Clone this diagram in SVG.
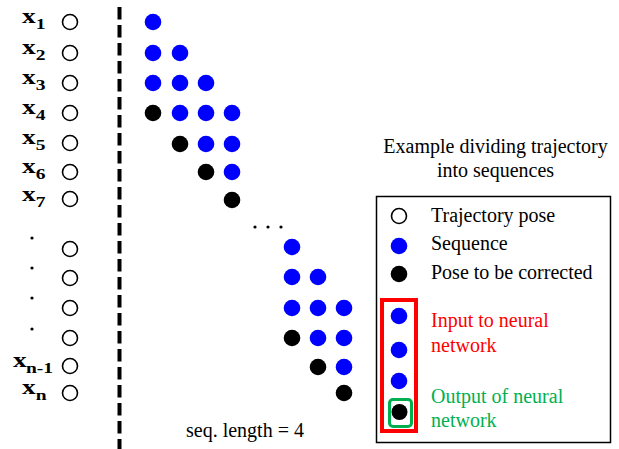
<svg xmlns="http://www.w3.org/2000/svg" width="619" height="449" viewBox="0 0 619 449">
  <style>
    .pose { fill: #fff; stroke: #000; stroke-width: 1.6; }
    .seq { fill: #0000ff; }
    .fix { fill: #000; }
    .lbl { font-family: "Liberation Serif", "Times New Roman", serif; font-weight: bold; font-size: 21px; fill: #000; }
    .sub { font-size: 15px; }
    .txt { font-family: "Liberation Serif", "Times New Roman", serif; font-size: 20px; fill: #000; }
  </style>
  <rect width="619" height="449" fill="#fff"/>

  <!-- trajectory labels (wide bold face) -->
  <g id="labels">
    <text class="lbl" transform="translate(22 23) scale(1.3 1)">x<tspan class="sub" dy="6">1</tspan></text>
    <text class="lbl" transform="translate(22 54) scale(1.3 1)">x<tspan class="sub" dy="6">2</tspan></text>
    <text class="lbl" transform="translate(22 84) scale(1.3 1)">x<tspan class="sub" dy="6">3</tspan></text>
    <text class="lbl" transform="translate(22 114) scale(1.3 1)">x<tspan class="sub" dy="6">4</tspan></text>
    <text class="lbl" transform="translate(22 144) scale(1.3 1)">x<tspan class="sub" dy="6">5</tspan></text>
    <text class="lbl" transform="translate(22 173) scale(1.3 1)">x<tspan class="sub" dy="6">6</tspan></text>
    <text class="lbl" transform="translate(22 201) scale(1.3 1)">x<tspan class="sub" dy="6">7</tspan></text>
    <circle class="fix" cx="32" cy="238" r="1.6"/>
    <circle class="fix" cx="32" cy="268" r="1.6"/>
    <circle class="fix" cx="32" cy="298" r="1.6"/>
    <circle class="fix" cx="32" cy="329" r="1.6"/>
    <text class="lbl" transform="translate(13 367) scale(1.3 1)">x<tspan class="sub" dy="6" dx="-0.5">n-1</tspan></text>
    <text class="lbl" transform="translate(22 394) scale(1.3 1)">x<tspan class="sub" dy="6">n</tspan></text>
  </g>

  <!-- trajectory poses -->
  <g id="poses">
    <circle class="pose" cx="70" cy="22" r="7.5"/>
    <circle class="pose" cx="70" cy="53" r="7.5"/>
    <circle class="pose" cx="70" cy="83" r="7.5"/>
    <circle class="pose" cx="70" cy="113" r="7.5"/>
    <circle class="pose" cx="70" cy="143" r="7.5"/>
    <circle class="pose" cx="70" cy="172" r="7.5"/>
    <circle class="pose" cx="70" cy="199" r="7.5"/>
    <circle class="pose" cx="70" cy="249" r="7.5"/>
    <circle class="pose" cx="70" cy="278" r="7.5"/>
    <circle class="pose" cx="70" cy="308" r="7.5"/>
    <circle class="pose" cx="70" cy="338" r="7.5"/>
    <circle class="pose" cx="70" cy="366" r="7.5"/>
    <circle class="pose" cx="70" cy="393" r="7.5"/>
  </g>

  <!-- divider -->
  <line x1="119.5" y1="7" x2="119.5" y2="449" stroke="#000" stroke-width="4" stroke-dasharray="12.5 5.5"/>

  <!-- sequences at the start of the trajectory -->
  <g id="sequences-start">
    <circle class="seq" cx="153" cy="22" r="8.3"/>
    <circle class="seq" cx="153" cy="53" r="8.3"/>
    <circle class="seq" cx="180" cy="53" r="8.3"/>
    <circle class="seq" cx="153" cy="83" r="8.3"/>
    <circle class="seq" cx="180" cy="83" r="8.3"/>
    <circle class="seq" cx="206" cy="83" r="8.3"/>
    <circle class="fix" cx="153" cy="113" r="8.3"/>
    <circle class="seq" cx="180" cy="113" r="8.3"/>
    <circle class="seq" cx="206" cy="113" r="8.3"/>
    <circle class="seq" cx="232" cy="113" r="8.3"/>
    <circle class="fix" cx="180" cy="144" r="8.3"/>
    <circle class="seq" cx="206" cy="144" r="8.3"/>
    <circle class="seq" cx="232" cy="144" r="8.3"/>
    <circle class="fix" cx="206" cy="172" r="8.3"/>
    <circle class="seq" cx="232" cy="172" r="8.3"/>
    <circle class="fix" cx="232" cy="200" r="8.3"/>
  </g>

  <!-- ellipsis -->
  <g id="ellipsis">
    <circle class="fix" cx="255" cy="227" r="1.6"/>
    <circle class="fix" cx="268" cy="227" r="1.6"/>
    <circle class="fix" cx="281" cy="227" r="1.6"/>
  </g>

  <!-- sequences at the end of the trajectory -->
  <g id="sequences-end">
    <circle class="seq" cx="292" cy="247" r="8.3"/>
    <circle class="seq" cx="292" cy="277" r="8.3"/>
    <circle class="seq" cx="318" cy="277" r="8.3"/>
    <circle class="seq" cx="292" cy="308" r="8.3"/>
    <circle class="seq" cx="318" cy="308" r="8.3"/>
    <circle class="seq" cx="344" cy="308" r="8.3"/>
    <circle class="fix" cx="292" cy="338" r="8.3"/>
    <circle class="seq" cx="318" cy="338" r="8.3"/>
    <circle class="seq" cx="344" cy="338" r="8.3"/>
    <circle class="fix" cx="318" cy="367" r="8.3"/>
    <circle class="seq" cx="344" cy="367" r="8.3"/>
    <circle class="fix" cx="344" cy="393" r="8.3"/>
  </g>

  <text id="seq-length" class="txt" x="186" y="437">seq. length = 4</text>

  <!-- legend -->
  <g id="legend-title">
    <text class="txt" x="495.5" y="153" text-anchor="middle">Example dividing trajectory</text>
    <text class="txt" x="495.5" y="177" text-anchor="middle">into sequences</text>
  </g>
  <g id="legend">
    <rect x="376.5" y="196.5" width="234" height="246" fill="none" stroke="#000" stroke-width="1.5"/>
    <circle class="pose" cx="399" cy="216" r="7.5"/>
    <text class="txt" x="431" y="222">Trajectory pose</text>
    <circle class="seq" cx="399" cy="246" r="8.3"/>
    <text class="txt" x="431" y="250">Sequence</text>
    <circle class="fix" cx="399" cy="274" r="8.3"/>
    <text class="txt" x="431" y="279">Pose to be corrected</text>
  </g>
  <g id="legend-input">
    <rect x="382" y="300" width="34" height="131" fill="none" stroke="#ff0000" stroke-width="4"/>
    <circle class="seq" cx="399" cy="316" r="8.3"/>
    <circle class="seq" cx="399" cy="350" r="8.3"/>
    <circle class="seq" cx="399" cy="381" r="8.3"/>
    <text class="txt" x="431" y="327" style="fill:#ff0000">Input to neural</text>
    <text class="txt" x="431" y="352" style="fill:#ff0000">network</text>
  </g>
  <g id="legend-output">
    <rect x="389.5" y="399.5" width="22" height="27" rx="3.5" fill="none" stroke="#00b050" stroke-width="3"/>
    <circle class="fix" cx="399.5" cy="412" r="8"/>
    <text class="txt" x="431" y="403" style="fill:#00b050">Output of neural</text>
    <text class="txt" x="431" y="427" style="fill:#00b050">network</text>
  </g>
</svg>
